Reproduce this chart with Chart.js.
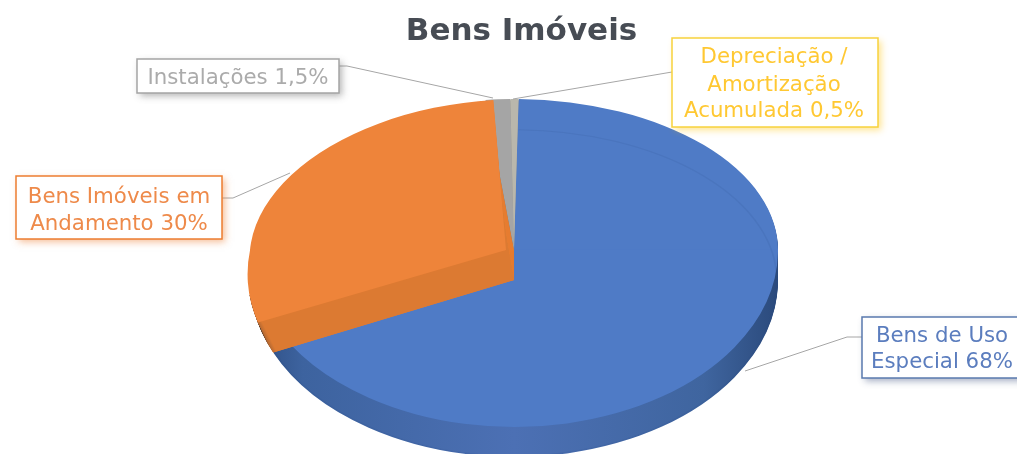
<!DOCTYPE html>
<html lang="pt">
<head>
<meta charset="utf-8">
<title>Bens Imóveis</title>
<script src="https://cdn.jsdelivr.net/npm/chart.js@4"></script>
<style>
    html, body { margin: 0; padding: 0; background: #fff; overflow: hidden; }
    canvas { display: block; }
</style>
</head>
<body>
<canvas id="pieChart" width="1017" height="454"></canvas>
<script>
// ==========================
// Data
// ==========================

const chartTitle = "Bens Imóveis";
const categories = ["Bens de Uso Especial", "Bens Imóveis em Andamento", "Instalações", "Depreciação / Amortização Acumulada"];
const values = [68, 30, 1.5, 0.5];

const faceColors = ["#4F7BC6", "#EE843A", "#A5A5A5", "#B9B7AC"];
const sideColors = ["#3F659F", "#E67C30", "#858585", "#9A9890"];

// ==========================
// 3D look of the pie
// ==========================

const pie3d = {
    cx: 514,
    apexY: 250,
    rx: 264,
    ryBack: 151,
    ryFront: 177,
    depth: 30
};

// How far the raised orange slice leans at its top face
const raised = { shift: -8, leanBack: 0.1, leanFront: 0.2 };

// Callout boxes, one per slice, in the same order as categories
const callouts = [
    { lines: ["Bens de Uso", "Especial"], box: [862, 317, 160, 61], textX: 942, textY: [336, 362], color: "#5B7DBE", border: "#5A7AAE",
      glow: "rgba(50,70,120,0.45)", leader: [[862, 337], [847, 337], [745, 371]] },
    { lines: ["Bens Imóveis em", "Andamento"], box: [16, 176, 206, 63], textX: 119, textY: [197, 224], color: "#EE8A4A", border: "#ED7D31",
      glow: "rgba(237,125,49,0.5)", leader: [[222, 198], [233, 198], [290, 173]] },
    { lines: ["Instalações"], box: [137, 59, 202, 34], textX: 238, textY: [78], color: "#ABABAB", border: "#A5A5A5",
      glow: "rgba(90,90,90,0.45)", leader: [[339, 66], [347, 66], [493, 98]] },
    { lines: ["Depreciação /", "Amortização", "Acumulada"], box: [672, 38, 206, 89], textX: 774, textY: [57, 85, 111], color: "#FFC832", border: "#F7D23C",
      glow: "rgba(255,192,0,0.45)", leader: [[672, 72], [513, 99]] }
];

function percentText(value) {
    return String(value).replace(".", ",") + "%";
}

// Arc elements read their fill from options, so swap them for one draw
function drawSlice(ctx, el, fill) {
    const saved = el.options;
    el.options = {
        backgroundColor: fill, borderColor: fill, borderWidth: 0, borderAlign: "center",
        borderJoinStyle: "round", borderRadius: 0, borderDash: [], borderDashOffset: 0,
        circular: true, spacing: 0, offset: 0
    };
    el.draw(ctx);
    el.options = saved;
}

// The library's pie is a circle: squash it, back half and front half separately.
// lift is 0 for a flat slice and 1 at the top of the raised one.
function withEllipse(chart, el, drop, paint, lift) {
    const ctx = chart.ctx;
    const t = lift || 0;
    const cx = pie3d.cx + raised.shift * t;
    const rx = pie3d.rx + raised.shift * t;
    const halves = [
        { y: 0, h: pie3d.apexY + drop + 0.5, ry: pie3d.ryBack, lean: raised.leanBack * t },
        { y: pie3d.apexY + drop - 0.5, h: chart.height, ry: pie3d.ryFront, lean: raised.leanFront * t }
    ];
    halves.forEach(function (half) {
        ctx.save();
        ctx.beginPath();
        ctx.rect(0, half.y, chart.width, half.h);
        ctx.clip();
        ctx.translate(cx, pie3d.apexY + drop);
        ctx.transform(1, 0, -half.lean, 1, 0, 0);
        ctx.scale(rx / el.outerRadius, half.ry / el.outerRadius);
        ctx.translate(-el.x, -el.y);
        paint(ctx);
        ctx.restore();
    });
}

function sideGradient(ctx, el, stops) {
    const g = ctx.createLinearGradient(el.x - el.outerRadius, 0, el.x + el.outerRadius, 0);
    stops.forEach(function (s) { g.addColorStop(s[0], s[1]); });
    return g;
}

// Keep the orange wall from showing around the upper left of its face
function clipOrangeWall(chart) {
    const ctx = chart.ctx;
    ctx.beginPath();
    ctx.rect(0, 295, chart.width, chart.height);
    ctx.rect(300, 240, chart.width, chart.height);
    ctx.rect(480, 0, chart.width, chart.height);
    ctx.clip();
}

const pie3dPlugin = {
    id: "pie3d",
    beforeDatasetsDraw(chart) {
        const ctx = chart.ctx;
        const arcs = chart.getDatasetMeta(0).data;
        const orange = arcs[1];

        // outer wall of the whole pie
        for (let drop = pie3d.depth; drop > 0; drop--) {
            arcs.forEach(function (el, i) {
                if (i === 1) return;
                withEllipse(chart, el, drop, function (c) {
                    const fill = i === 0 ? sideGradient(c, el, [
                        [0, "#2C4C80"], [0.1, "#3D639F"], [0.5, "#4C70B4"], [0.86, "#3F659F"], [1, "#2B4A7C"]
                    ]) : sideColors[i];
                    drawSlice(c, el, fill);
                });
            });
        }

        // top faces, the orange slice comes later
        arcs.forEach(function (el, i) {
            if (i === 1) return;
            withEllipse(chart, el, 0, function (c) { drawSlice(c, el, faceColors[i]); });
        });

        // faint line of the lower rim showing through the blue face
        const blue = arcs[0];
        withEllipse(chart, blue, pie3d.depth, function (c) {
            c.beginPath();
            c.arc(blue.x, blue.y, blue.outerRadius - 1, blue.startAngle, blue.endAngle);
            c.strokeStyle = "rgba(40,70,130,0.12)";
            c.lineWidth = 1.2;
            c.stroke();
        });

        // raised orange slice: flat wall, leaning wall, then its face
        ctx.save();
        clipOrangeWall(chart);
        for (let drop = pie3d.depth; drop > 0; drop--) {
            withEllipse(chart, orange, drop, function (c) { drawSlice(c, orange, sideColors[1]); });
        }
        for (let drop = pie3d.depth; drop > 0; drop--) {
            withEllipse(chart, orange, drop, function (c) {
                drawSlice(c, orange, sideGradient(c, orange, [
                    [0, "#3E3A3A"], [0.025, "#5A4030"], [0.05, "#DC7A32"], [1, "#DC7A32"]
                ]));
            }, 1 - drop / pie3d.depth);
        }
        ctx.restore();
        withEllipse(chart, orange, 0, function (c) { drawSlice(c, orange, faceColors[1]); }, 1);

        return false;
    },
    afterDraw(chart) {
        const ctx = chart.ctx;

        callouts.forEach(function (c, i) {
            // leader line
            ctx.save();
            ctx.strokeStyle = "#A6A6A6";
            ctx.lineWidth = 1;
            ctx.beginPath();
            c.leader.forEach(function (p, n) {
                if (n === 0) ctx.moveTo(p[0], p[1]); else ctx.lineTo(p[0], p[1]);
            });
            ctx.stroke();
            ctx.restore();

            // box with its soft shadow
            ctx.save();
            ctx.shadowColor = c.glow;
            ctx.shadowBlur = 7;
            ctx.shadowOffsetX = 3;
            ctx.shadowOffsetY = 3;
            ctx.fillStyle = "#FFFFFF";
            ctx.fillRect(c.box[0], c.box[1], c.box[2], c.box[3]);
            ctx.restore();

            ctx.save();
            ctx.strokeStyle = c.border;
            ctx.lineWidth = 1.5;
            ctx.strokeRect(c.box[0], c.box[1], c.box[2], c.box[3]);

            // text, the value goes on the last line
            ctx.fillStyle = c.color;
            ctx.font = '21.3px "DejaVu Sans"';
            ctx.textAlign = "center";
            ctx.textBaseline = "middle";
            c.lines.forEach(function (line, n) {
                const last = n === c.lines.length - 1;
                ctx.fillText(last ? line + " " + percentText(values[i]) : line, c.textX, c.textY[n]);
            });
            ctx.restore();
        });
    }
};

// ==========================
// Pie chart
// ==========================

new Chart(document.getElementById("pieChart"), {
    type: "pie",
    plugins: [pie3dPlugin],
    data: {
        labels: categories,
        datasets: [{
            data: values,
            backgroundColor: faceColors,
            borderWidth: 0
        }]
    },
    options: {
        responsive: false,
        animation: false,
        events: [],
        rotation: 1,
        layout: { padding: { left: 26 } },
        plugins: {
            legend: { display: false },
            tooltip: { enabled: false },
            title: {
                display: true,
                text: chartTitle,
                fullSize: false,
                color: "#474C54",
                font: { family: "'DejaVu Sans'", size: 31, weight: "bold" },
                padding: { top: 13, bottom: 6 }
            }
        }
    }
});
</script>
</body>
</html>
